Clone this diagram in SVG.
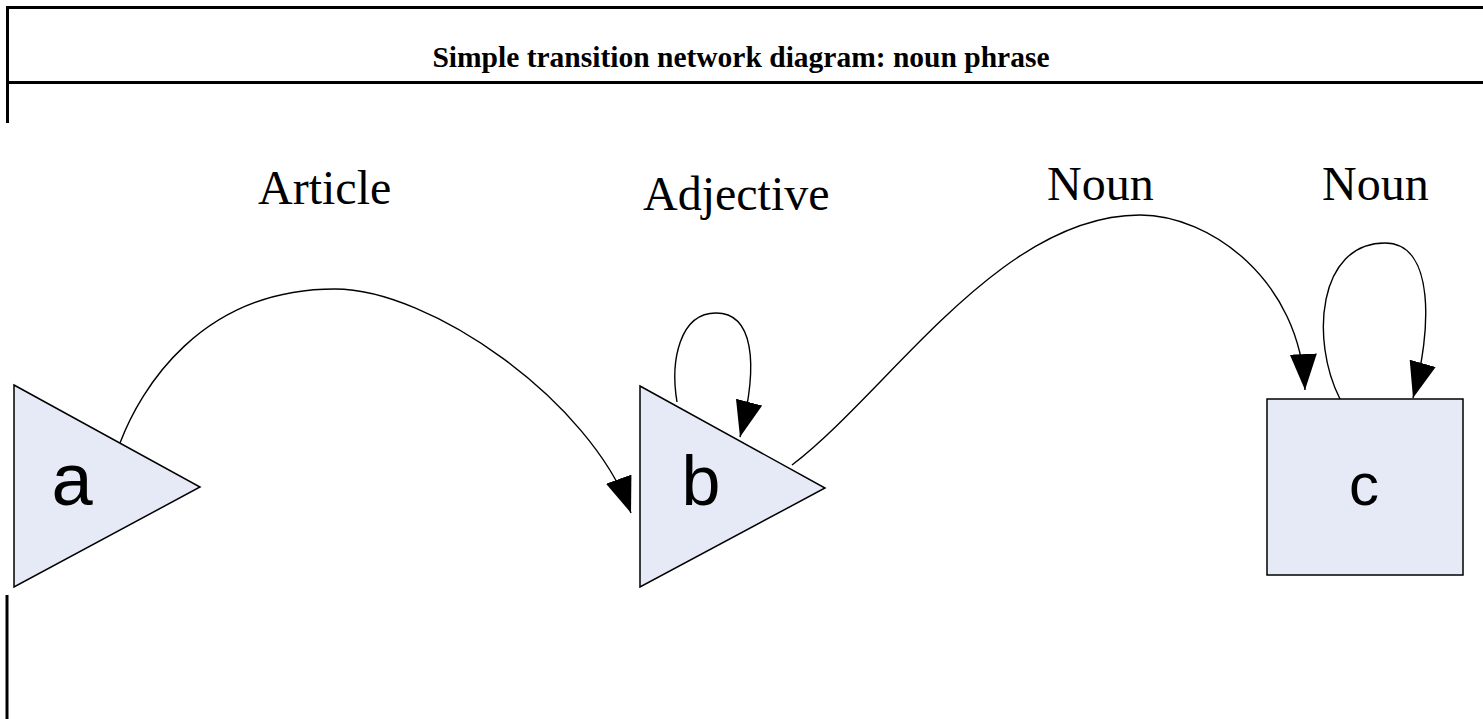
<svg xmlns="http://www.w3.org/2000/svg" width="1483" height="719" viewBox="0 0 1483 719">
<style>
.frame{stroke:#000;stroke-width:3;fill:none}
.title{font-family:"Liberation Serif",serif;font-weight:bold;font-size:29.5px;fill:#000}
.lbl{font-family:"Liberation Serif",serif;font-size:48px;fill:#000}
.node{fill:#e5eaf6;stroke:#000;stroke-width:1.5}
.ntext{font-family:"Liberation Sans",sans-serif;fill:#000;text-anchor:middle}
.edge{fill:none;stroke:#000;stroke-width:1.4;marker-end:url(#arr)}
</style>
<defs>
<marker id="arr" markerUnits="userSpaceOnUse" viewBox="0 0 36 27" refX="36" refY="13.5" markerWidth="36" markerHeight="27" orient="auto">
<path d="M0,0 L36,13.5 L0,27 z" fill="#000"/>
</marker>
</defs>
<g id="frame">
<line class="frame" x1="7.5" y1="7.5" x2="1483" y2="7.5"/>
<line class="frame" x1="7.5" y1="82.5" x2="1483" y2="82.5"/>
<line class="frame" x1="7.5" y1="6" x2="7.5" y2="123"/>
<line class="frame" x1="7" y1="595" x2="7" y2="719"/>
<text class="title" x="741" y="67" text-anchor="middle">Simple transition network diagram: noun phrase</text>
</g>
<g id="labels">
<text class="lbl" x="258" y="204" font-size="50">Article</text>
<text class="lbl" x="643" y="210">Adjective</text>
<text class="lbl" x="1047" y="200">Noun</text>
<text class="lbl" x="1322" y="200">Noun</text>
</g>
<g id="node-a">
<polygon class="node" points="14,385 200,487 14,587"/>
<text class="ntext" x="72" y="505" font-size="74">a</text>
</g>
<g id="node-b">
<polygon class="node" points="640,386 825,488 640,587"/>
<text class="ntext" x="701" y="505" font-size="70">b</text>
</g>
<g id="node-c">
<rect class="node" x="1267" y="399" width="196" height="176"/>
<text class="ntext" x="1364" y="505" font-size="60">c</text>
</g>
<g id="connectors">
<path class="edge" d="M120,443 C140,390 200,289 335,289 C430,289 590,400 631,513"/>
<path class="edge" d="M677,402 C670,360 680,313 716,313 C752,313 760,360 740,437"/>
<path class="edge" d="M792,465 C890,390 1000,215 1140,215 C1210,215 1300,280 1305,390"/>
<path class="edge" d="M1340,399 C1310,340 1318,243 1385,243 C1435,243 1432,330 1413,398"/>
</g>
</svg>
